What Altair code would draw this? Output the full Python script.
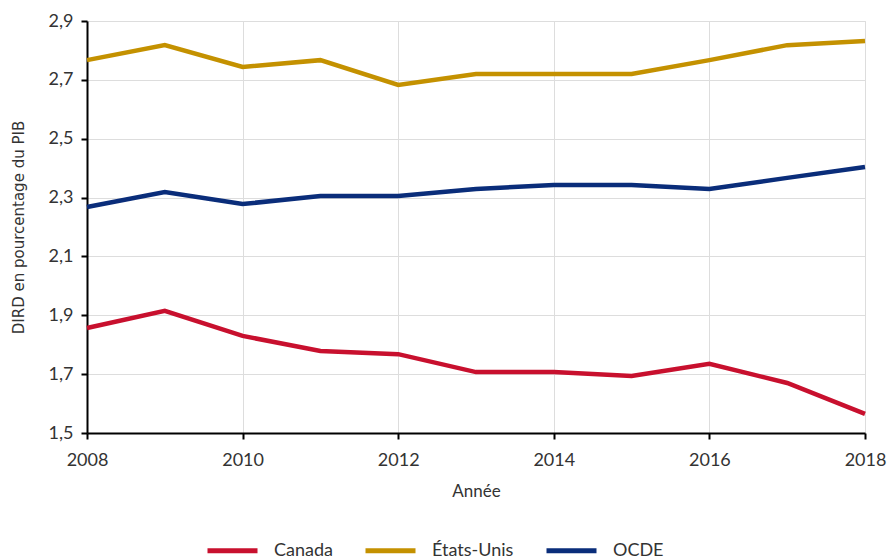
import altair as alt
import pandas as pd

years = list(range(2008, 2019))
canada = [1.857, 1.915, 1.830, 1.779, 1.768, 1.707, 1.707, 1.694, 1.735, 1.670, 1.565]
etats_unis = [2.767, 2.818, 2.744, 2.767, 2.683, 2.720, 2.720, 2.720, 2.767, 2.818, 2.832]
ocde = [2.268, 2.319, 2.278, 2.305, 2.305, 2.329, 2.343, 2.343, 2.329, 2.367, 2.404]

series = ["Canada", "États-Unis", "OCDE"]
colors = ["#C8102E", "#C49100", "#0A2D7A"]

rows = []
for name, vals in zip(series, [canada, etats_unis, ocde]):
    for y, v in zip(years, vals):
        rows.append({"Année": y, "valeur": v, "série": name})
df = pd.DataFrame(rows)

font = "Lato"

chart = alt.Chart(df).mark_line(strokeWidth=4.5).encode(
    x=alt.X("Année:Q",
            scale=alt.Scale(domain=[2008, 2018], nice=False, zero=False),
            axis=alt.Axis(values=list(range(2008, 2019, 2)), format="d", title="Année",
                          labelFont=font, labelFontSize=18, labelColor="#333",
                          titleFont=font, titleFontSize=17, titleFontWeight="normal",
                          titleColor="#333", titlePadding=14,
                          domainColor="#000", domainWidth=2, tickColor="#000",
                          tickWidth=2, tickSize=6, labelPadding=12,
                          gridColor="#dddddd", labelFlush=False)),
    y=alt.Y("valeur:Q",
            scale=alt.Scale(domain=[1.5, 2.9], nice=False, zero=False),
            axis=alt.Axis(values=[1.5, 1.7, 1.9, 2.1, 2.3, 2.5, 2.7, 2.9],
                          labelExpr="replace(format(datum.value, '.1f'), '.', ',')",
                          title="DIRD en pourcentage du PIB",
                          labelFont=font, labelFontSize=18, labelColor="#333",
                          titleFont="DejaVu Sans", titleFontSize=15,
                          titleFontWeight="normal", titleColor="#333",
                          titlePadding=22,
                          domainColor="#000", domainWidth=2, tickColor="#000",
                          tickWidth=2, tickSize=6, labelPadding=8,
                          gridColor="#dddddd")),
    color=alt.Color("série:N",
                    scale=alt.Scale(domain=series, range=colors),
                    legend=alt.Legend(orient="none", legendX=118, legendY=502,
                                      direction="horizontal", title=None,
                                      symbolType="stroke", symbolStrokeWidth=5,
                                      symbolSize=2500, labelFont=font,
                                      labelFontSize=18, labelColor="#333",
                                      columnPadding=22, labelOffset=14)),
).properties(
    width=778, height=412,
    padding={"left": 87, "top": 21, "right": 24, "bottom": 127},
    autosize=alt.AutoSizeParams(type="none"),
).configure_view(stroke=None).configure(background="white")

chart.save("out.html", embed_options={"renderer": "svg", "actions": False})
